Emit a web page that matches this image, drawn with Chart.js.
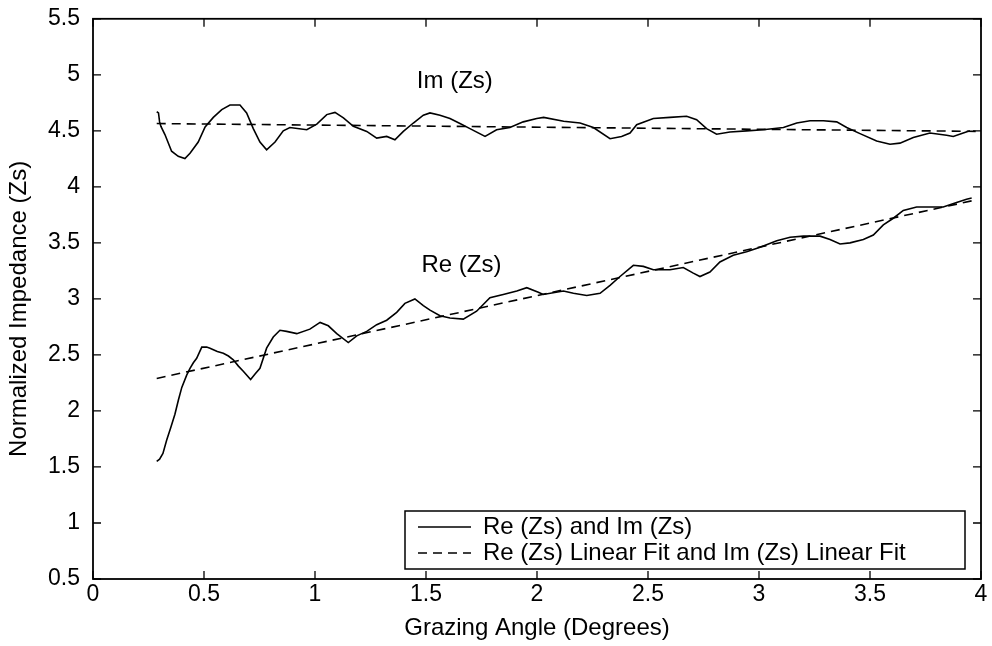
<!DOCTYPE html>
<html>
<head>
<meta charset="utf-8">
<script src="https://cdn.jsdelivr.net/npm/chart.js@4/dist/chart.umd.min.js"></script>
<style>
  html, body { margin: 0; padding: 0; background: #fff; }
  #wrap { width: 992px; height: 646px; }
</style>
</head>
<body>
<div id="wrap"><canvas id="chart" width="992" height="646"></canvas></div>
<script>
// Re (Zs) measured curve
const reX = [0.287, 0.300, 0.315, 0.332, 0.350, 0.369, 0.385, 0.400, 0.422, 0.437, 0.452, 0.467, 0.490, 0.512, 0.527, 0.560, 0.587, 0.610, 0.632, 0.655, 0.677, 0.710, 0.730, 0.752, 0.782, 0.812, 0.842, 0.872, 0.918, 0.977, 1.023, 1.060, 1.098, 1.150, 1.188, 1.233, 1.278, 1.323, 1.368, 1.405, 1.450, 1.488, 1.518, 1.563, 1.608, 1.668, 1.728, 1.788, 1.848, 1.909, 1.954, 2.006, 2.028, 2.119, 2.164, 2.224, 2.284, 2.329, 2.374, 2.434, 2.479, 2.524, 2.599, 2.659, 2.704, 2.734, 2.779, 2.824, 2.884, 2.944, 3.005, 3.080, 3.140, 3.200, 3.275, 3.320, 3.365, 3.410, 3.470, 3.515, 3.560, 3.605, 3.650, 3.710, 3.770, 3.830, 3.890, 3.935, 3.958];
const reY = [1.55, 1.57, 1.62, 1.74, 1.85, 1.97, 2.10, 2.21, 2.32, 2.38, 2.43, 2.47, 2.57, 2.57, 2.56, 2.53, 2.515, 2.49, 2.456, 2.40, 2.354, 2.28, 2.33, 2.38, 2.56, 2.66, 2.72, 2.71, 2.69, 2.73, 2.79, 2.76, 2.69, 2.61, 2.67, 2.71, 2.77, 2.81, 2.88, 2.96, 3.00, 2.94, 2.90, 2.85, 2.83, 2.82, 2.89, 3.01, 3.04, 3.07, 3.10, 3.06, 3.04, 3.07, 3.05, 3.03, 3.05, 3.12, 3.20, 3.30, 3.29, 3.26, 3.26, 3.28, 3.23, 3.20, 3.24, 3.33, 3.39, 3.42, 3.46, 3.52, 3.55, 3.56, 3.56, 3.53, 3.49, 3.50, 3.53, 3.57, 3.66, 3.72, 3.79, 3.82, 3.82, 3.82, 3.86, 3.89, 3.90];

// Im (Zs) measured curve
const imX = [0.287, 0.295, 0.300, 0.306, 0.324, 0.354, 0.384, 0.414, 0.437, 0.474, 0.505, 0.542, 0.580, 0.617, 0.662, 0.692, 0.722, 0.752, 0.782, 0.820, 0.857, 0.887, 0.963, 1.008, 1.053, 1.090, 1.128, 1.173, 1.233, 1.278, 1.323, 1.360, 1.398, 1.443, 1.488, 1.518, 1.563, 1.608, 1.653, 1.698, 1.766, 1.818, 1.878, 1.938, 1.999, 2.030, 2.120, 2.194, 2.254, 2.329, 2.381, 2.419, 2.449, 2.524, 2.599, 2.674, 2.719, 2.764, 2.809, 2.869, 2.944, 3.019, 3.110, 3.170, 3.230, 3.290, 3.350, 3.395, 3.455, 3.530, 3.590, 3.635, 3.695, 3.770, 3.845, 3.875, 3.920, 3.950];
const imY = [4.67, 4.66, 4.58, 4.54, 4.467, 4.318, 4.273, 4.253, 4.30, 4.40, 4.535, 4.62, 4.69, 4.73, 4.73, 4.66, 4.52, 4.40, 4.33, 4.40, 4.50, 4.53, 4.51, 4.56, 4.645, 4.665, 4.615, 4.54, 4.495, 4.435, 4.45, 4.42, 4.495, 4.57, 4.64, 4.66, 4.64, 4.61, 4.565, 4.52, 4.45, 4.51, 4.53, 4.58, 4.61, 4.62, 4.585, 4.57, 4.53, 4.43, 4.45, 4.48, 4.555, 4.61, 4.62, 4.63, 4.60, 4.52, 4.47, 4.49, 4.50, 4.51, 4.53, 4.57, 4.59, 4.59, 4.58, 4.53, 4.475, 4.41, 4.38, 4.39, 4.44, 4.48, 4.46, 4.45, 4.48, 4.50];

// linear fits (end points)
const reFitX = [0.287, 3.97];
const reFitY = [2.29, 3.88];
const imFitX = [0.287, 4.0];
const imFitY = [4.565, 4.495];

const xTicks = [0, 0.5, 1, 1.5, 2, 2.5, 3, 3.5, 4];
const yTicks = [0.5, 1, 1.5, 2, 2.5, 3, 3.5, 4, 4.5, 5, 5.5];

const legendLabels = ["Re (Zs) and Im (Zs)", "Re (Zs) Linear Fit and Im (Zs) Linear Fit"];
const notes = [
  { text: "Im (Zs)", x: 1.63, y: 4.94 },
  { text: "Re (Zs)", x: 1.66, y: 3.30 },
];

const FONT = "'Liberation Sans', Arial, Helvetica, sans-serif";
const toPts = (xs, ys) => xs.map((x, i) => ({ x, y: ys[i] }));

const solid = { borderColor: "#000", borderWidth: 1.6, pointRadius: 0, showLine: true, tension: 0, fill: false };
const dashed = { ...solid, borderDash: [9, 6], borderWidth: 1.6 };

// frame, inward ticks, titles, notes, legend
const matlabBits = {
  id: "matlabBits",
  afterDraw(chart) {
    const { ctx, chartArea: a, scales } = chart;
    const sx = scales.x, sy = scales.y;
    ctx.save();
    ctx.strokeStyle = "#000";
    ctx.lineWidth = 1.8;
    ctx.strokeRect(a.left, a.top, a.right - a.left, a.bottom - a.top);
    ctx.lineWidth = 1.3;
    const tl = 8;
    ctx.beginPath();
    xTicks.forEach((v) => {
      const p = sx.getPixelForValue(v);
      ctx.moveTo(p, a.bottom); ctx.lineTo(p, a.bottom - tl);
      ctx.moveTo(p, a.top); ctx.lineTo(p, a.top + tl);
    });
    yTicks.forEach((v) => {
      const p = sy.getPixelForValue(v);
      ctx.moveTo(a.left, p); ctx.lineTo(a.left + tl, p);
      ctx.moveTo(a.right, p); ctx.lineTo(a.right - tl, p);
    });
    ctx.stroke();

    ctx.fillStyle = "#000";
    ctx.font = "24px " + FONT;
    ctx.textAlign = "center";
    ctx.textBaseline = "middle";
    ctx.fillText("Grazing Angle (Degrees)", (a.left + a.right) / 2, 628);
    ctx.save();
    ctx.translate(19, (a.top + a.bottom) / 2 + 10);
    ctx.rotate(-Math.PI / 2);
    ctx.fillText("Normalized Impedance (Zs)", 0, 0);
    ctx.restore();

    notes.forEach((n) => {
      ctx.fillText(n.text, sx.getPixelForValue(n.x), sy.getPixelForValue(n.y));
    });

    // legend box in lower right of the axes
    const bx = a.right - 576, by = a.bottom - 68, bw = 560, bh = 58;
    ctx.fillStyle = "#fff";
    ctx.fillRect(bx, by, bw, bh);
    ctx.lineWidth = 1.5;
    ctx.strokeRect(bx, by, bw, bh);
    const rows = [by + 16, by + 42];
    const styles = [solid, dashed];
    rows.forEach((ry, i) => {
      ctx.lineWidth = 1.6;
      ctx.setLineDash(styles[i].borderDash || []);
      ctx.beginPath();
      ctx.moveTo(bx + 13, ry); ctx.lineTo(bx + 66, ry);
      ctx.stroke();
      ctx.setLineDash([]);
      ctx.fillStyle = "#000";
      ctx.textAlign = "left";
      ctx.fillText(legendLabels[i], bx + 78, ry);
    });
    ctx.restore();
  },
};

new Chart(document.getElementById("chart"), {
  type: "scatter",
  data: {
    datasets: [
      { label: "Re (Zs)", data: toPts(reX, reY), ...solid },
      { label: "Im (Zs)", data: toPts(imX, imY), ...solid },
      { label: "Re (Zs) Linear Fit", data: toPts(reFitX, reFitY), ...dashed },
      { label: "Im (Zs) Linear Fit", data: toPts(imFitX, imFitY), ...dashed },
    ],
  },
  options: {
    responsive: false,
    animation: false,
    devicePixelRatio: 1,
    layout: { padding: { top: 15, right: 11, left: 0, bottom: 0 } },
    plugins: { legend: { display: false }, tooltip: { enabled: false } },
    scales: {
      x: {
        type: "linear", min: 0, max: 4,
        afterBuildTicks: (s) => { s.ticks = xTicks.map((v) => ({ value: v })); },
        afterFit: (s) => { s.height = 67; },
        grid: { display: false },
        border: { display: false },
        ticks: { color: "#000", font: { family: FONT, size: 23 }, padding: -6, maxRotation: 0, callback: (v) => String(v) },
      },
      y: {
        type: "linear", min: 0.5, max: 5.5,
        afterBuildTicks: (s) => { s.ticks = yTicks.map((v) => ({ value: v })); },
        afterFit: (s) => { s.width = 93; },
        grid: { display: false },
        border: { display: false },
        ticks: { color: "#000", font: { family: FONT, size: 23 }, padding: 5, callback: (v) => String(v) },
      },
    },
  },
  plugins: [matlabBits],
});
</script>
</body>
</html>
